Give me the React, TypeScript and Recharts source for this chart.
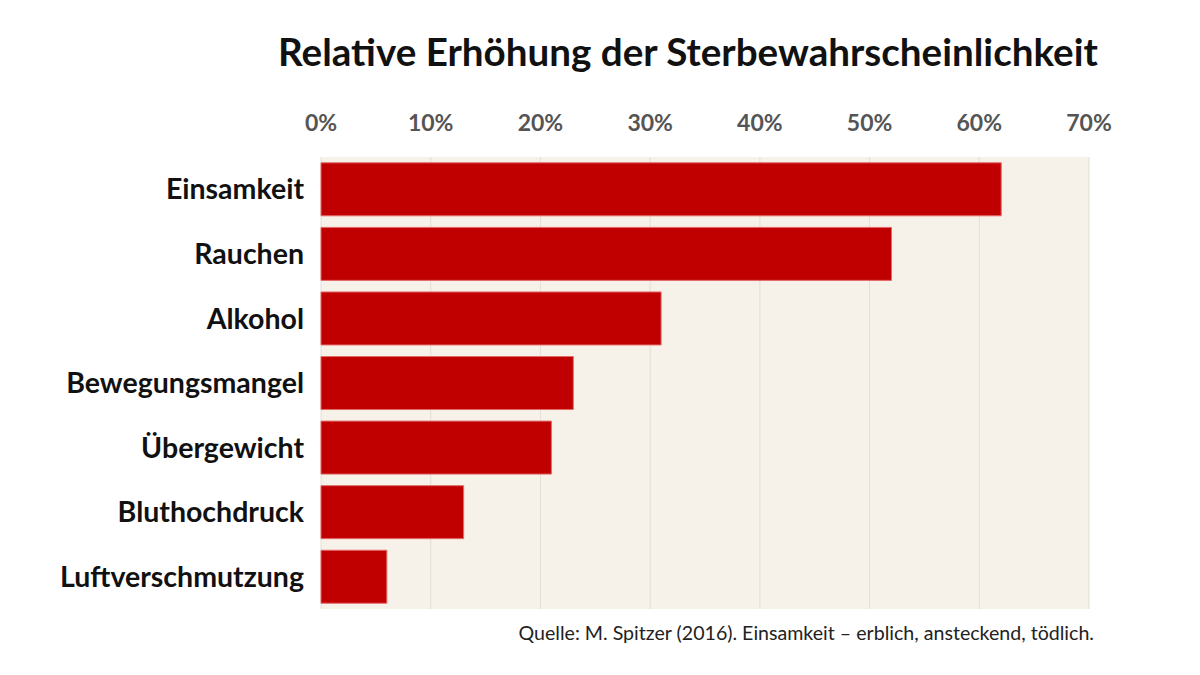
import React from "react";
import { BarChart, Bar, XAxis, YAxis, CartesianGrid, Customized } from "recharts";

const categories = [
  "Einsamkeit",
  "Rauchen",
  "Alkohol",
  "Bewegungsmangel",
  "Übergewicht",
  "Bluthochdruck",
  "Luftverschmutzung",
];
const increase = [62, 52, 31, 23, 21, 13, 6];
const xTicks = [0, 10, 20, 30, 40, 50, 60, 70];

const title = "Relative Erhöhung der Sterbewahrscheinlichkeit";
const source = "Quelle: M. Spitzer (2016). Einsamkeit – erblich, ansteckend, tödlich.";

const data = categories.map((name, i) => ({ name, value: increase[i] }));

const FONT = "Lato, 'Open Sans', sans-serif";

const Labels = () => (
  <g>
    <text x={688} y={66} textAnchor="middle" fontFamily={FONT} fontWeight={700} fontSize={38.6} fill="#111">
      {title}
    </text>
    <text x={1094} y={640} textAnchor="end" fontFamily={FONT} fontSize={19.6} fill="#222">
      {source}
    </text>
  </g>
);

const App: React.FC = () => {
  return (
    <div style={{ position: "absolute", left: 0, top: 0, background: "#fff" }}>
      <BarChart
        width={1200}
        height={675}
        data={data}
        layout="vertical"
        barCategoryGap="9%"
        margin={{ top: 127, right: 111, bottom: 66, left: 0 }}
      >
        <CartesianGrid horizontal={false} stroke="#e3dfd6" fill="#f7f2e9" />
        <XAxis
          type="number"
          orientation="top"
          domain={[0, 70]}
          ticks={xTicks}
          tickFormatter={(v: number) => `${v}%`}
          axisLine={false}
          tickLine={false}
          tickMargin={20}
          height={30}
          tick={{ fill: "#555", fontSize: 23, fontWeight: 700, fontFamily: FONT }}
        />
        <YAxis
          type="category"
          dataKey="name"
          width={321}
          axisLine={false}
          tickLine={false}
          tickMargin={11}
          tick={{ fill: "#111", fontSize: 28.5, fontWeight: 700, fontFamily: FONT }}
        />
        <Bar dataKey="value" fill="#c00000" stroke="#e46a6a" strokeWidth={1} isAnimationActive={false} />
        <Customized component={Labels} />
      </BarChart>
    </div>
  );
};

export default App;
